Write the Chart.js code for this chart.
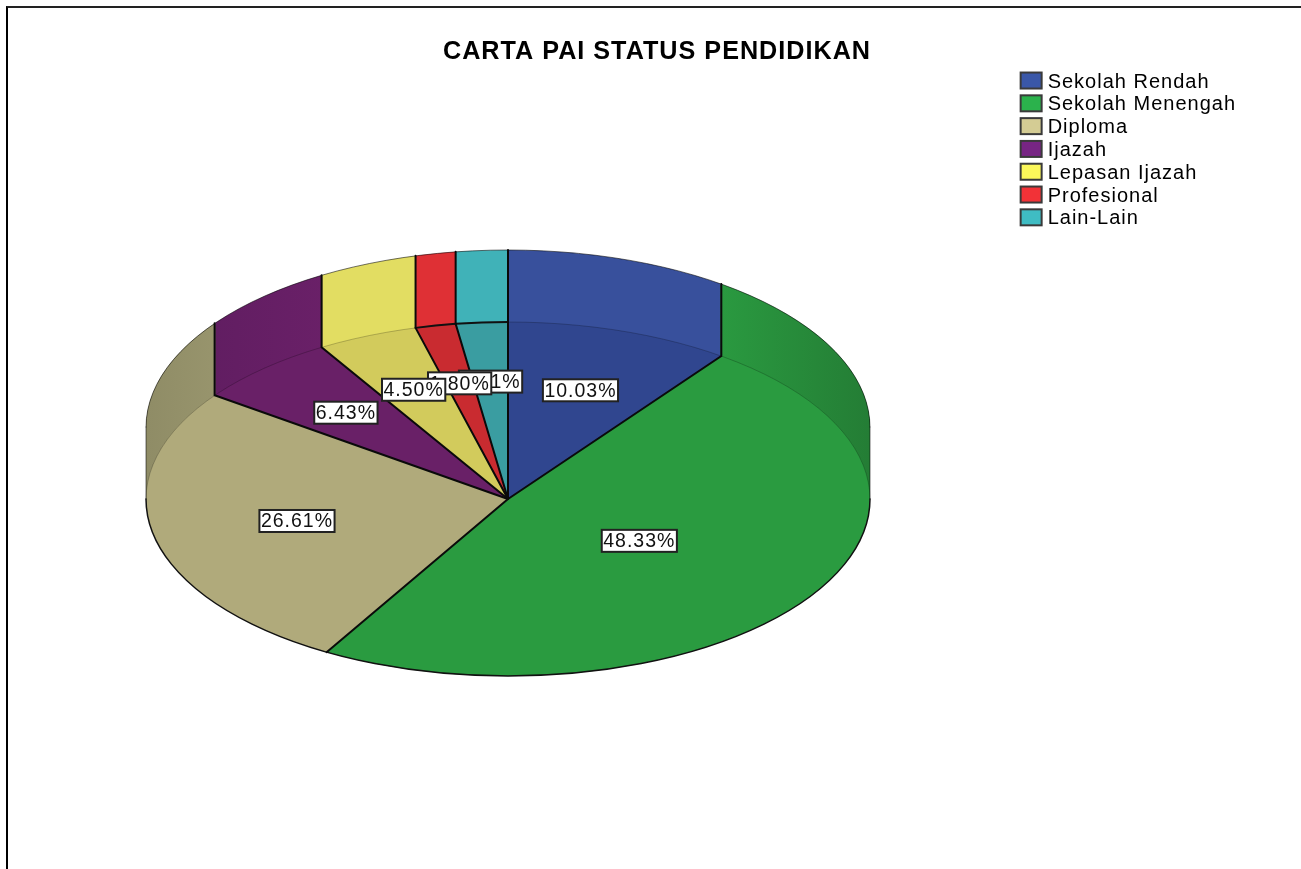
<!DOCTYPE html>
<html><head><meta charset="utf-8">
<script src="https://cdn.jsdelivr.net/npm/chart.js@4"></script>
<style>
html,body{margin:0;padding:0;background:#fff;overflow:hidden}
#wrap{position:relative;width:1301px;height:869px}
#frame{position:absolute;left:6px;top:6px;right:0;bottom:0;border-left:2px solid #000;border-top:2px solid #222;pointer-events:none}
canvas{position:absolute;left:0;top:0}
</style></head><body>
<div id="wrap"><canvas id="c" width="1301" height="869"></canvas><div id="frame"></div></div>
<script>
const chartTitle = 'CARTA PAI STATUS PENDIDIKAN';
const categories = ['Sekolah Rendah','Sekolah Menengah','Diploma','Ijazah','Lepasan Ijazah','Profesional','Lain-Lain'];
const values = [10.03,48.33,26.61,6.43,4.50,1.80,2.31];
const faceColors = ['#30468f','#2a9b40','#b0aa7b','#692067','#d2cb5c','#c92b30','#3a9da1'];
const wallColors = ['#38509c','#2a9a40','#a6a277','#6a2068','#e2dd62','#df3035','#40b2b8'];
const wallEdgeColors = ['#38509c','#247d35','#8f8c66','#5c1c5e','#e2dd62','#df3035','#40b2b8'];
const legendColors = ['#3a57a8','#2bb24c','#d4cc94','#772584','#fbf75a','#f23237','#3fbcc3'];
const labelRadii = [0.646,0.433,0.596,0.662,0.67,0.667,0.665];
const darkRim = [false,false,false,false,false,true,true];

const pieGeom = {cx:508, cy:499, rx:362, ry:177, depth:72};

const ctx0 = document.getElementById('c').getContext('2d');

function pieTransform(ctx, arc, dy){
  const s = arc.getProps(['x','y','outerRadius']);
  ctx.translate(pieGeom.cx, pieGeom.cy - dy);
  ctx.scale(pieGeom.rx/s.outerRadius, pieGeom.ry/s.outerRadius);
  ctx.translate(-s.x, -s.y);
}
function rimPoint(a, dy){
  return {x: pieGeom.cx + pieGeom.rx*Math.cos(a), y: pieGeom.cy - dy + pieGeom.ry*Math.sin(a)};
}
function rimArc(ctx, a0, a1, dy){
  ctx.beginPath();
  ctx.ellipse(pieGeom.cx, pieGeom.cy - dy, pieGeom.rx, pieGeom.ry, 0, a0, a1);
  ctx.stroke();
}

const pie3d = {
  id:'pie3d',
  beforeLayout(chart){ chart.ctx.letterSpacing='1px'; },
  beforeDraw(chart){ chart.ctx.letterSpacing='1px'; },
  beforeDatasetsDraw(chart){
    const ctx = chart.ctx, arcs = chart.getDatasetMeta(0).data;
    // side wall: the slices repeated, stepping down towards the face
    const fills = arcs.map((arc,i)=>{
      const p = arc.getProps(['x','outerRadius']);
      const g = ctx.createLinearGradient(p.x-p.outerRadius,0,p.x+p.outerRadius,0);
      g.addColorStop(0,wallEdgeColors[i]);
      g.addColorStop(0.25,wallColors[i]);
      g.addColorStop(0.79,wallColors[i]);
      g.addColorStop(1,wallEdgeColors[i]);
      return Object.assign({}, arc.options, {backgroundColor:g, borderWidth:0});
    });
    const saved = arcs.map(a=>a.options);
    for(let d=pieGeom.depth; d>=1; d--){
      arcs.forEach((arc,i)=>{
        arc.options = fills[i];
        ctx.save(); pieTransform(ctx,arc,d); arc.draw(ctx); ctx.restore();
      });
    }
    arcs.forEach((arc,i)=>{ arc.options = saved[i]; });
    ctx.save();
    pieTransform(ctx,arcs[0],0);
  },
  afterDatasetsDraw(chart){
    const ctx = chart.ctx, arcs = chart.getDatasetMeta(0).data;
    ctx.restore();
    ctx.save();
    ctx.lineCap='round';
    const d = pieGeom.depth;
    // outer rims
    ctx.strokeStyle='rgba(0,0,0,0.55)'; ctx.lineWidth=1;
    rimArc(ctx,Math.PI,2*Math.PI,d);
    ctx.beginPath();
    [Math.PI,0].forEach(a=>{const t=rimPoint(a,d),b=rimPoint(a,0);ctx.moveTo(t.x,t.y);ctx.lineTo(b.x,b.y);});
    ctx.stroke();
    ctx.strokeStyle='rgba(0,0,0,0.22)'; ctx.lineWidth=1;
    rimArc(ctx,Math.PI,2*Math.PI,0);
    ctx.strokeStyle='#111'; ctx.lineWidth=1.5;
    rimArc(ctx,0,Math.PI,0);
    ctx.lineWidth=2;
    arcs.forEach((arc,i)=>{ if(darkRim[i]) rimArc(ctx,arc.startAngle,arc.endAngle,0); });
    // slice edges
    ctx.strokeStyle='#0a0a0a'; ctx.lineWidth=2;
    arcs.forEach(arc=>{
      const a=arc.startAngle, b=rimPoint(a,0);
      ctx.beginPath();
      ctx.moveTo(pieGeom.cx,pieGeom.cy); ctx.lineTo(b.x,b.y);
      if(Math.sin(a)<0){ const t=rimPoint(a,d); ctx.lineTo(t.x,t.y); }
      ctx.stroke();
    });
    ctx.restore();
    // percentage labels, last slice first so earlier ones sit on top
    ctx.save();
    ctx.font='19.5px "Liberation Sans"';
    ctx.textAlign='center'; ctx.textBaseline='middle';
    for(let i=arcs.length-1;i>=0;i--){
      const a=(arcs[i].startAngle+arcs[i].endAngle)/2;
      const x=pieGeom.cx+labelRadii[i]*pieGeom.rx*Math.cos(a);
      const y=pieGeom.cy+labelRadii[i]*pieGeom.ry*Math.sin(a);
      const txt=values[i].toFixed(2)+'%';
      const w=ctx.measureText(txt).width+3, h=22;
      ctx.fillStyle='#fff'; ctx.strokeStyle='#222'; ctx.lineWidth=2;
      ctx.fillRect(x-w/2,y-h/2,w,h); ctx.strokeRect(x-w/2,y-h/2,w,h);
      ctx.fillStyle='#111'; ctx.fillText(txt,x,y+1);
    }
    ctx.restore();
  },
  afterDraw(chart){
    // legend swatches are a little wider than the library's gap allows
    const ctx=chart.ctx, boxes=chart.legend.legendHitBoxes;
    ctx.save();
    boxes.forEach((b,i)=>{
      ctx.fillStyle=legendColors[i]; ctx.strokeStyle='#3a3a3a'; ctx.lineWidth=2;
      const h=16, y=b.top+(b.height-15)/2-2;
      ctx.clearRect(b.left-2,y-2,26,h+5);
      ctx.fillRect(b.left,y,21,h); ctx.strokeRect(b.left,y,21,h);
    });
    ctx.restore();
  }
};

new Chart(ctx0,{
  type:'pie',
  data:{labels:categories,datasets:[{data:values,backgroundColor:faceColors,borderWidth:0,clip:false}]},
  options:{
    responsive:false,animation:false,
    layout:{padding:{left:68,right:55,top:37,bottom:8}},
    plugins:{
      tooltip:{enabled:false},
      title:{display:true,text:chartTitle,color:'#000',
        font:{family:'"Liberation Sans"',size:25.2,weight:'bold',lineHeight:1.16},padding:{top:0,bottom:3}},
      legend:{display:true,position:'right',align:'start',fullSize:false,
        labels:{boxWidth:17,boxHeight:15,padding:2.8,color:'#222',
          font:{family:'"Liberation Sans"',size:20,lineHeight:1},
          generateLabels(){return categories.map((t,i)=>({text:t,fillStyle:legendColors[i],strokeStyle:'#3a3a3a',lineWidth:2,index:i}));}
        }}
    }
  },
  plugins:[pie3d]
});
</script>
</body></html>
